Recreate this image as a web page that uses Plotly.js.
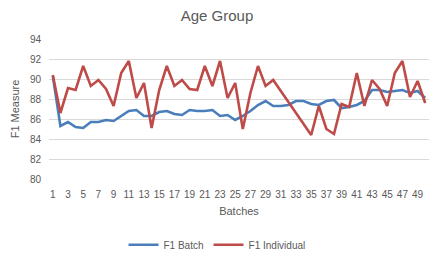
<!DOCTYPE html>
<html>
<head>
<meta charset="utf-8">
<script src="https://cdn.plot.ly/plotly-3.0.1.min.js"></script>
<style>html,body{margin:0;padding:0;background:#fff;}#chart{width:434px;height:255px;}</style>
</head>
<body>
<div id="chart"></div>
<script>
const batches = Array.from({length: 50}, (_, i) => i + 1);
const f1Batch = [90.3, 85.3, 85.7, 85.2, 85.1, 85.7, 85.7, 85.9, 85.8, 86.3,
  86.8, 86.9, 86.3, 86.3, 86.7, 86.8, 86.5, 86.4, 86.9, 86.8,
  86.8, 86.9, 86.3, 86.4, 85.9, 86.3, 86.8, 87.4, 87.8, 87.3,
  87.3, 87.4, 87.8, 87.8, 87.5, 87.4, 87.8, 87.9, 87.1, 87.2,
  87.4, 87.8, 88.9, 88.9, 88.7, 88.8, 88.9, 88.6, 88.8, 88.1];
const f1Individual = [90.4, 86.6, 89.1, 88.9, 91.3, 89.3, 89.9, 89.0, 87.3, 90.6,
  91.8, 88.1, 89.6, 85.1, 88.9, 91.3, 89.3, 89.9, 89.0, 88.9,
  91.3, 89.3, 91.8, 88.1, 89.6, 85.0, 88.6, 91.3, 89.3, 89.9,
  88.8, 87.7, 86.6, 85.5, 84.4, 87.3, 85.0, 84.5, 87.5, 87.2,
  90.6, 87.3, 89.9, 89.0, 87.3, 90.6, 91.8, 88.2, 89.8, 87.6];
const xTicks = batches.filter(b => b % 2 === 1);
const yTicks = [80, 82, 84, 86, 88, 90, 92, 94];

const grey = '#595959';
const fam = 'Liberation Sans, Arial, sans-serif';
const font = {family: fam, size: 10, color: grey};

const data = [
  {x: batches, y: f1Batch, name: 'F1 Batch', type: 'scatter', mode: 'lines',
   line: {color: '#4a7ebb', width: 2.6}},
  {x: batches, y: f1Individual, name: 'F1 Individual', type: 'scatter', mode: 'lines',
   line: {color: '#be4b48', width: 2.6}}
];

const layout = {
  width: 434, height: 255,
  margin: {l: 48.5, r: 5, t: 39.3, b: 75.7, pad: 0},
  paper_bgcolor: '#fff', plot_bgcolor: '#fff',
  font: font,
  showlegend: true,
  title: {text: 'Age Group', font: {family: fam, size: 15, color: grey},
          x: 0.5, xanchor: 'center', xref: 'container', y: 0.94, yanchor: 'middle', yref: 'container'},
  xaxis: {
    type: 'linear', range: [0.5, 50.5], tickvals: xTicks, ticktext: xTicks.map(String),
    showgrid: false, zeroline: false, showline: false, ticks: '', ticklabelstandoff: 8,
    tickfont: font, automargin: false,
    title: {text: 'Batches', font: {family: fam, size: 11, color: grey}, standoff: 8}
  },
  yaxis: {
    range: [80, 94], tickvals: yTicks, ticktext: yTicks.map(String),
    showgrid: true, gridcolor: '#d9d9d9', gridwidth: 1, zeroline: false, showline: false,
    ticks: '', ticklabelstandoff: 7, tickfont: font, automargin: false,
    title: {text: 'F1 Measure', font: {family: fam, size: 11, color: grey}, standoff: 8}
  },
  legend: {orientation: 'h', xref: 'container', x: 0.5, xanchor: 'center',
           yref: 'container', y: 0.04, yanchor: 'middle',
           font: {family: fam, size: 10, color: grey},
           itemwidth: 30, tracegroupgap: 0}
};

Plotly.newPlot('chart', data, layout, {displayModeBar: false, staticPlot: true});
</script>
</body>
</html>
